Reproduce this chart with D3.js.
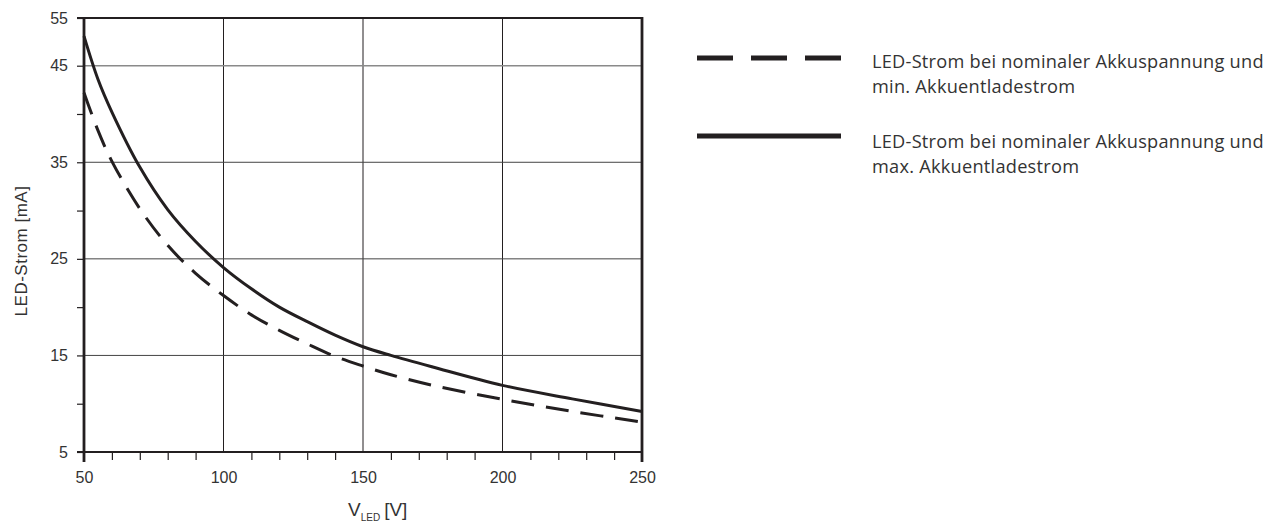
<!DOCTYPE html>
<html>
<head>
<meta charset="utf-8">
<script src="https://cdn.jsdelivr.net/npm/d3@7"></script>
<style>
  body { margin: 0; background: #fff; }
</style>
</head>
<body>
<div id="chart"></div>
<script>
// values
const voltage = [50, 55, 60, 70, 80, 90, 100, 110, 120, 130, 140, 150, 160, 175, 200, 225, 250];
const currentMax = [51.2, 43.6, 40.2, 34.5, 30.1, 26.8, 24.1, 21.9, 20, 18.5, 17.1, 15.9, 15, 13.8, 11.9, 10.5, 9.2];
const currentMin = [42.2, 38.3, 35.1, 30.2, 26.4, 23.5, 21.2, 19.2, 17.6, 16.2, 14.9, 13.9, 13, 11.9, 10.45, 9.2, 8.1];

const yTicks = [5, 15, 25, 35, 45, 55];
const yMinorTicks = [10, 20, 30, 40];
const xTicks = [50, 100, 150, 200, 250];
const xMinorTicks = [60, 70, 80, 90, 110, 120, 130, 140, 160, 170, 180, 190, 210, 220, 230, 240];
const gridX = [100, 150, 200];
const gridY = [15, 25, 35];

const legendLines = [
    ["LED-Strom bei nominaler Akkuspannung und", "min. Akkuentladestrom"],
    ["LED-Strom bei nominaler Akkuspannung und", "max. Akkuentladestrom"]
];

const ink = "#231f20";
const textColor = "#333";

const margin = {top: 18, left: 84},
    width = 642 - 84,
    height = 452 - 18;

const svg = d3.select("#chart")
    .append("svg")
        .attr("width", 1284)
        .attr("height", 526)
    .append("g")
        .attr("transform", `translate(${margin.left}, ${margin.top})`);

const x = d3.scaleLinear()
    .domain([50, 250])
    .range([0, width]);

// the axis in the picture is squeezed above 45
const y = d3.scaleLinear()
    .domain([5, 45, 55])
    .range([height, 47.7, 0]);

// grid
svg.selectAll(".gx")
    .data(gridX)
    .enter()
    .append("line")
        .attr("x1", d => x(d)).attr("x2", d => x(d))
        .attr("y1", 0).attr("y2", height)
        .attr("stroke", ink)
        .attr("stroke-width", 1);

svg.selectAll(".gy")
    .data(gridY)
    .enter()
    .append("line")
        .attr("x1", 0).attr("x2", width)
        .attr("y1", d => y(d)).attr("y2", d => y(d))
        .attr("stroke", "#444")
        .attr("stroke-width", 1);

svg.append("line")
    .attr("x1", 0).attr("x2", width)
    .attr("y1", y(45)).attr("y2", y(45))
    .attr("stroke", "#8a8a8a")
    .attr("stroke-width", 1.5);

// y axis
const yAxis = svg.append("g")
    .call(d3.axisLeft(y).tickValues(yTicks).tickSize(7).tickPadding(9));
yAxis.append("g")
    .call(d3.axisLeft(y).tickValues(yMinorTicks).tickSize(7).tickFormat(""));
yAxis.selectAll(".domain").remove();
yAxis.selectAll("line").attr("stroke", ink).attr("stroke-width", 1.2);
yAxis.selectAll("text")
    .attr("fill", textColor)
    .style("font-family", "Liberation Sans, Arial, sans-serif")
    .style("font-size", "16px");

// x axis
const xAxis = svg.append("g")
    .attr("transform", `translate(0, ${height})`);
xAxis.append("g")
    .call(d3.axisBottom(x).tickValues(xMinorTicks).tickSize(8).tickFormat(""));
xAxis.append("g")
    .call(d3.axisBottom(x).tickValues(xTicks).tickSize(0).tickPadding(20));
xAxis.selectAll(".domain").remove();
xAxis.selectAll("line").attr("stroke", ink).attr("stroke-width", 1.2);
xAxis.selectAll("text")
    .attr("fill", textColor)
    .style("font-family", "Liberation Sans, Arial, sans-serif")
    .style("font-size", "16px");

// frame
svg.append("line")
    .attr("x1", -7).attr("x2", width).attr("y1", 0).attr("y2", 0)
    .attr("stroke", ink).attr("stroke-width", 2.2);
svg.append("line")
    .attr("x1", -7).attr("x2", width).attr("y1", height).attr("y2", height)
    .attr("stroke", ink).attr("stroke-width", 2.2);
svg.append("line")
    .attr("x1", 0).attr("x2", 0).attr("y1", -1).attr("y2", height + 10)
    .attr("stroke", ink).attr("stroke-width", 2.8);
svg.append("line")
    .attr("x1", width).attr("x2", width).attr("y1", -1).attr("y2", height + 10)
    .attr("stroke", ink).attr("stroke-width", 2.8);

// curves
const line = d3.line()
    .x(d => x(d[0]))
    .y(d => y(d[1]))
    .curve(d3.curveCatmullRom.alpha(0.5));

svg.append("path")
    .datum(d3.zip(voltage, currentMin))
    .attr("fill", "none")
    .attr("stroke", ink)
    .attr("stroke-width", 3)
    .attr("stroke-dasharray", "23,12")
    .attr("d", line);

svg.append("path")
    .datum(d3.zip(voltage, currentMax))
    .attr("fill", "none")
    .attr("stroke", ink)
    .attr("stroke-width", 3)
    .attr("d", line);

// axis titles
const root = d3.select("#chart svg");
root.append("text")
    .attr("transform", "translate(21, 251) rotate(-90)")
    .attr("text-anchor", "middle")
    .attr("dominant-baseline", "central")
    .attr("fill", textColor)
    .style("font-family", "Liberation Sans, Arial, sans-serif")
    .style("font-size", "17px")
    .style("letter-spacing", "0.5px")
    .text("LED-Strom [mA]");

const xt = root.append("text")
    .attr("x", 348)
    .attr("y", 516)
    .attr("fill", textColor)
    .style("font-family", "Liberation Sans, Arial, sans-serif")
    .style("font-size", "19px");
xt.append("tspan").text("V");
xt.append("tspan").attr("dy", 5).attr("dx", 0).style("font-size", "10px").text("LED");
xt.append("tspan").attr("dy", -5).attr("dx", 4).text("[V]");

// legend
const legend = root.append("g");
const legendY = [58, 136];
const legendTextY = [68, 148];
const legendDash = ["36,18", null];
legendLines.forEach((lines, i) => {
    legend.append("line")
        .attr("x1", 697).attr("x2", 841)
        .attr("y1", legendY[i]).attr("y2", legendY[i])
        .attr("stroke", ink)
        .attr("stroke-width", 5)
        .attr("stroke-dasharray", legendDash[i]);
    lines.forEach((t, j) => {
        legend.append("text")
            .attr("x", 872)
            .attr("y", legendTextY[i] + j * 25)
            .attr("fill", textColor)
            .style("font-family", "Open Sans, sans-serif")
            .style("font-size", "18.2px")
            .style("letter-spacing", "0.25px")
            .text(t);
    });
});
</script>
</body>
</html>
